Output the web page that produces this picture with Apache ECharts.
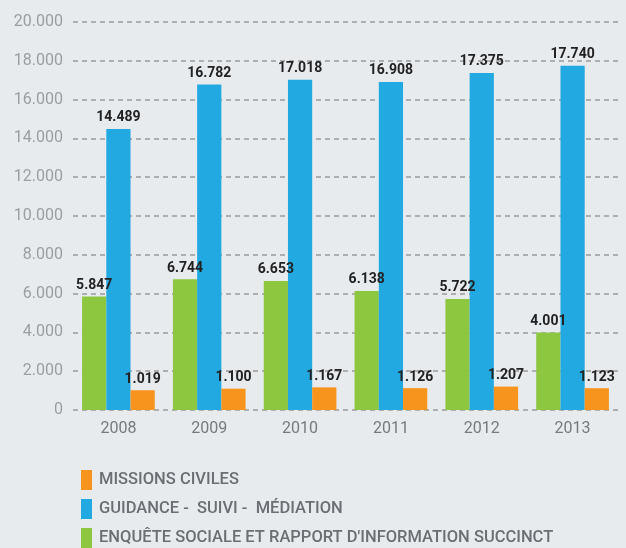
<!DOCTYPE html>
<html>
<head>
<meta charset="utf-8">
<script src="https://cdn.jsdelivr.net/npm/echarts@6/dist/echarts.min.js"></script>
<style>
  html, body { margin: 0; padding: 0; background: #e8ebee; }
  #chart { width: 626px; height: 548px; }
</style>
</head>
<body>
<div id="chart"></div>
<script>
const years = ['2008', '2009', '2010', '2011', '2012', '2013']
const enquete = [5847, 6744, 6653, 6138, 5722, 4001]
const guidance = [14489, 16782, 17018, 16908, 17375, 17740]
const missions = [1019, 1100, 1167, 1126, 1207, 1123]
const yTicks = [0, 2000, 4000, 6000, 8000, 10000, 12000, 14000, 16000, 18000, 20000]

const nameEnquete = "ENQUÊTE SOCIALE ET RAPPORT D'INFORMATION SUCCINCT"
const nameGuidance = 'GUIDANCE -  SUIVI -  MÉDIATION'
const nameMissions = 'MISSIONS CIVILES'

function formatNumber(v) {
  return String(v).replace(/\B(?=(\d{3})+(?!\d))/g, '.')
}

const valueLabel = {
  show: true,
  position: 'top',
  distance: 4,
  color: '#222222',
  fontFamily: 'Roboto',
  fontWeight: 'bold',
  fontSize: 14,
  formatter: (p) => formatNumber(p.value)
}

function makeSeries(name, data, color) {
  return {
    name: name,
    type: 'bar',
    data: data,
    barGap: '0%',
    barCategoryGap: '20%',
    itemStyle: { color: color },
    label: valueLabel
  }
}

const chart = echarts.init(document.getElementById('chart'))
chart.setOption({
  backgroundColor: '#e8ebee',
  animation: false,
  grid: { left: 73, right: 8, top: 22, bottom: 138 },
  legend: {
    orient: 'vertical',
    left: 81,
    top: 470,
    padding: 0,
    itemWidth: 11,
    itemHeight: 20,
    itemGap: 9,
    icon: 'rect',
    data: [nameMissions, nameGuidance, nameEnquete],
    textStyle: {
      color: '#6b6e73',
      fontSize: 16.5,
      fontWeight: 500,
      fontFamily: 'Roboto',
      padding: [0, 0, 0, 2]
    }
  },
  xAxis: {
    type: 'category',
    data: years,
    axisLine: { show: false },
    axisTick: { show: false },
    axisLabel: { color: '#77797d', fontSize: 16, fontFamily: 'Roboto', margin: 11 }
  },
  yAxis: {
    type: 'value',
    min: yTicks[0],
    max: yTicks[yTicks.length - 1],
    interval: 2000,
    axisLine: { show: false },
    axisTick: { show: false },
    axisLabel: {
      color: '#9b9da0',
      fontSize: 16,
      fontFamily: 'Roboto',
      margin: 10,
      formatter: (v) => formatNumber(v)
    },
    splitLine: {
      lineStyle: { color: '#9a9a9a', width: 1.5, type: [5, 4] }
    }
  },
  series: [
    makeSeries(nameEnquete, enquete, '#8dc63f'),
    makeSeries(nameGuidance, guidance, '#22a9e1'),
    makeSeries(nameMissions, missions, '#f7941d')
  ]
})
</script>
</body>
</html>
